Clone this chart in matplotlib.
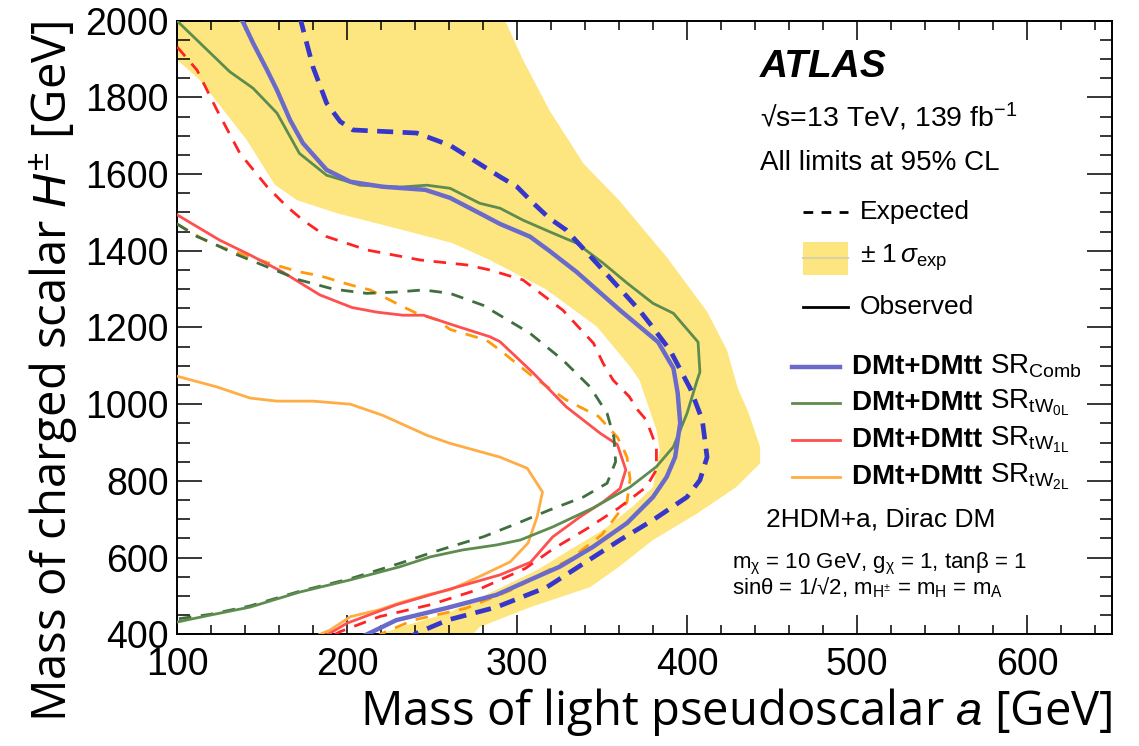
import matplotlib
matplotlib.use("Agg")
import matplotlib.pyplot as plt
from matplotlib.lines import Line2D
from matplotlib.patches import Rectangle

plt.rcParams['font.family'] = ['Liberation Sans', 'DejaVu Sans']
plt.rcParams['mathtext.fontset'] = 'custom'
plt.rcParams['mathtext.rm'] = 'Liberation Sans'
plt.rcParams['mathtext.it'] = 'Liberation Sans:italic'
plt.rcParams['mathtext.bf'] = 'Liberation Sans:bold'
plt.rcParams['mathtext.sf'] = 'Liberation Sans'

# ---------------- data (m_a [GeV], m_H+- [GeV]) ----------------
comb_obs_x = [136, 138.8, 144.7, 153, 158.8, 166.5, 174, 188, 202, 221, 246, 260.6, 278, 290, 307.6,
              319, 335, 360.6, 383, 392, 394.5, 396, 393, 388, 380, 364.7, 344.7, 325, 307.6, 288,
              259, 229, 211.8, 209]
comb_obs_y = [2010, 1997, 1942, 1871, 1819, 1741, 1681, 1611, 1580, 1567, 1559, 1538, 1498, 1470, 1437,
              1400, 1345, 1245, 1162, 1094, 1030, 951, 862, 810, 758, 690, 628, 576, 542, 503,
              469, 437, 400, 394]

comb_exp_x = [172, 173, 180, 188, 196, 203.5, 241, 260.6, 290, 300, 309.6, 319, 329, 347, 372, 378,
              390, 402, 409, 411.8, 407.6, 400, 380, 360.6, 341, 317.6, 288, 259, 241, 238]
comb_exp_y = [2010, 1997, 1879, 1785, 1737, 1715, 1707, 1675, 1593, 1567, 1524, 1485, 1454, 1367, 1245, 1211,
              1141, 1040, 959, 862, 802, 758, 698, 646, 590, 523, 471, 437, 403, 395]

band_outer_x = [292, 303.5, 319, 339, 360, 388, 412, 423.5, 430, 436, 443, 443, 429, 406, 380, 360,
                343, 308, 278, 274, 270]
band_outer_y = [2010, 1898, 1767, 1628, 1532, 1384, 1240, 1141, 1040, 980, 889, 846, 784, 715, 646, 576,
                523, 471, 419, 400, 390]
band_inner_x = [222, 223.5, 239, 259, 288, 312, 331, 350.6, 368, 380, 384, 382, 372, 366.5, 347, 317.6,
                284, 262, 233, 194, 170.6, 157.6, 141, 113.5, 100, 95, 95]
band_inner_y = [390, 407, 429, 455, 516, 568, 620, 672, 733, 784, 880, 933, 1063, 1098, 1202, 1298,
                1376, 1420, 1454, 1498, 1532, 1572, 1689, 1845, 1898, 1915, 2010]

tw0l_obs_x = [99, 100.6, 131, 144.7, 158.8, 172, 188, 207.6, 231, 247, 260.6, 278, 290, 303.5, 319, 335,
              350.6, 364.7, 380, 392, 406.5, 407.6, 406, 400, 392, 382, 366.5, 345, 321, 302, 288, 268,
              249, 231, 202, 172, 143, 119.4, 100]
tw0l_obs_y = [2003, 1997, 1867, 1824, 1759, 1654, 1597, 1571, 1566, 1571, 1563, 1524, 1511, 1480, 1450, 1420,
              1368, 1316, 1263, 1237, 1162, 1084, 1063, 976, 889, 837, 784, 730, 680, 646, 633, 620,
              602, 576, 542, 510, 471, 450, 432]

tw0l_exp_x = [100, 111.8, 121, 133, 153, 172, 192, 211.8, 231, 245, 260.6, 280, 307.6, 327, 343, 353,
              357, 358, 353, 339, 319, 300, 280, 260.6, 249, 231, 202, 172, 143, 119.4, 100]
tw0l_exp_y = [1470, 1437, 1420, 1394, 1358, 1324, 1300, 1289, 1293, 1298, 1289, 1258, 1185, 1115, 1045, 976,
              914, 850, 794, 758, 724, 689, 654, 628, 612, 585, 545, 512, 474, 452, 440]

tw1l_obs_x = [100, 125, 143, 162, 184, 203, 217.6, 233, 245, 262, 284, 290, 309.6, 329, 349, 359, 364,
              360.6, 350.6, 337, 321, 308, 290, 259, 229, 200, 190, 186]
tw1l_obs_y = [1494, 1428, 1389, 1345, 1285, 1252, 1240, 1232, 1232, 1207, 1176, 1163, 1081, 993, 924, 895, 829,
              780, 745, 706, 654, 588, 555, 516, 477, 429, 403, 395]

tw1l_exp_x = [100, 111.8, 123.5, 137, 153, 164.7, 174, 188, 211.8, 243, 270.6, 284, 303.5, 327, 345, 350.6,
              356.5, 366, 371, 376, 382, 382, 376, 360, 341, 321, 305, 290, 278, 249, 219, 196, 193]
tw1l_exp_y = [1932, 1871, 1767, 1654, 1567, 1515, 1480, 1437, 1402, 1376, 1363, 1350, 1324, 1245, 1159, 1107,
              1063, 1020, 985, 959, 889, 829, 784, 730, 675, 622, 572, 542, 518, 477, 446, 407, 400]

tw2l_obs_x = [100, 123.5, 143, 158.8, 180, 202, 221, 247, 260.6, 290, 306, 315, 311.8, 306.5, 296, 280,
              260.6, 249, 231, 219, 202, 190, 184]
tw2l_obs_y = [1073, 1045, 1016, 1008, 1008, 1000, 971, 919, 898, 862, 833, 771, 706, 638, 589, 555,
              516, 505, 482, 464, 446, 411, 400]

tw2l_exp_x = [100, 119.4, 143, 154.7, 172, 184, 202, 213.5, 233, 241, 253, 260.6, 282, 290, 309.6, 329,
              348, 359, 362, 364.7, 366.5, 364.7, 350, 331, 313, 298, 270, 239, 221, 218]
tw2l_exp_y = [1470, 1420, 1384, 1367, 1345, 1335, 1311, 1298, 1254, 1237, 1220, 1195, 1167, 1141, 1071, 1011,
              968, 914, 889, 862, 805, 745, 660, 595, 555, 518, 468, 437, 403, 396]

x_ticks = [100, 200, 300, 400, 500, 600]
y_ticks = [400, 600, 800, 1000, 1200, 1400, 1600, 1800, 2000]

# ---------------- style ----------------
c_band = '#FDE680'
c_comb_obs = '#6A6ACB'
c_comb_exp = '#3636CC'
c_0l_obs = '#5E8C4E'
c_0l_exp = '#3F6E3F'
c_1l_obs = '#FF4F4F'
c_1l_exp = '#FF2424'
c_2l_obs = '#FFAD45'
c_2l_exp = '#FF9A0A'

fig = plt.figure(figsize=(11.39, 7.46), dpi=100)
ax = fig.add_axes([0.1554, 0.1497, 0.8209, 0.8226])

band_x = band_outer_x + band_inner_x
band_y = band_outer_y + band_inner_y
ax.fill(band_x, band_y, color=c_band, lw=0, zorder=1)

dsh = (4.5, 3.5)
ax.plot(tw2l_obs_x, tw2l_obs_y, color=c_2l_obs, lw=2.0, zorder=3)
ax.plot(tw2l_exp_x, tw2l_exp_y, color=c_2l_exp, lw=2.0, dashes=dsh, zorder=3)
ax.plot(tw1l_obs_x, tw1l_obs_y, color=c_1l_obs, lw=2.0, zorder=3)
ax.plot(tw1l_exp_x, tw1l_exp_y, color=c_1l_exp, lw=2.0, dashes=dsh, zorder=3)
ax.plot(tw0l_exp_x, tw0l_exp_y, color=c_0l_exp, lw=2.0, dashes=dsh, zorder=3)
ax.plot(tw0l_obs_x, tw0l_obs_y, color=c_0l_obs, lw=2.0, zorder=3)
ax.plot(comb_exp_x, comb_exp_y, color=c_comb_exp, lw=3.4, dashes=(3.4, 2.0), zorder=4)
ax.plot(comb_obs_x, comb_obs_y, color=c_comb_obs, lw=3.2, zorder=4)

ax.set_xlim(100, 650)
ax.set_ylim(400, 2000)
ax.set_xticks(x_ticks)
ax.set_yticks(y_ticks)
ax.set_xticks(range(100, 651, 20), minor=True)
ax.set_yticks(range(400, 2001, 50), minor=True)
ax.tick_params(which='both', direction='in', top=True, right=True, width=1.1)
ax.tick_params(axis='x', which='major', length=13.5, pad=9, labelsize=27)
ax.tick_params(axis='x', which='minor', length=6.8)
ax.tick_params(axis='y', which='major', length=18, pad=6, labelsize=27)
ax.tick_params(axis='y', which='minor', length=9)
for sp in ax.spines.values():
    sp.set_linewidth(1.4)

ax.set_xlabel(r'Mass of light pseudoscalar $\mathit{a}$ [GeV]', family='Open Sans',
              fontsize=34, loc='right', labelpad=2)
ax.set_ylabel(r'Mass of charged scalar $\mathit{H}^{\pm}$ [GeV]', family='Open Sans',
              fontsize=34, loc='top', labelpad=4)

T = ax.transAxes
ax.text(0.6235, 0.9087, 'ATLAS', transform=T, fontsize=28, fontweight='bold', style='italic')
ax.text(0.6235, 0.8271, '√s=13 TeV, 139 fb$^{\\mathrm{-1}}$', transform=T, fontsize=20.5)
ax.text(0.6235, 0.7570, 'All limits at 95% CL', transform=T, fontsize=20)


def ax_frac(px, py):
    return ((px - 177) / 935.0, (634.3 - py) / 613.6)


# legend: expected / band / observed
x0, _ = ax_frac(803, 0)
x1, _ = ax_frac(848, 0)
xt, _ = ax_frac(860, 0)
for py, kind in [(211.7, 'exp'), (258, 'band'), (307, 'obs')]:
    _, yy = ax_frac(0, py)
    if kind == 'exp':
        ax.add_line(Line2D([x0, x1], [yy, yy], transform=T, color='black', lw=2.0, dashes=(3.5, 3.0)))
        ax.text(xt, yy, 'Expected', transform=T, fontsize=19, va='center')
    elif kind == 'band':
        _, yb = ax_frac(0, 275)
        _, yt = ax_frac(0, 242)
        ax.add_patch(Rectangle((x0, yb), x1 - x0, yt - yb, transform=T, color=c_band, lw=0))
        ax.add_line(Line2D([x0, x1], [yy, yy], transform=T, color='#D8D2A8', lw=1.5))
        ax.text(xt, yy, r'$\pm$ 1$\,\sigma_{\mathrm{exp}}$', transform=T, fontsize=19, va='center')
    else:
        ax.add_line(Line2D([x0, x1], [yy, yy], transform=T, color='black', lw=2.0))
        ax.text(xt, yy, 'Observed', transform=T, fontsize=19, va='center')

# legend: SR curves
lx0, _ = ax_frac(792, 0)
lx1, _ = ax_frac(840, 0)
ltx, _ = ax_frac(852, 0)
entries = [(366.7, c_comb_obs, 3.2, r'SR$_{\mathrm{Comb}}$'),
           (403, c_0l_obs, 2.0, r'SR$_{\mathrm{tW}_{\mathrm{0L}}}$'),
           (440, c_1l_obs, 2.0, r'SR$_{\mathrm{tW}_{\mathrm{1L}}}$'),
           (476.7, c_2l_obs, 2.0, r'SR$_{\mathrm{tW}_{\mathrm{2L}}}$')]
for py, col, lw, sr in entries:
    _, yy = ax_frac(0, py)
    ax.add_line(Line2D([lx0, lx1], [yy, yy], transform=T, color=col, lw=lw))
    t1 = ax.text(ltx, yy, 'DMt+DMtt ', transform=T, fontsize=20, fontweight='bold', va='center')
    ax.annotate(sr, xy=(1, 0.5), xycoords=t1, fontsize=20, va='center', ha='left')

_, yb = ax_frac(0, 526.7)
ax.text(ax_frac(766, 0)[0], yb, '2HDM+a, Dirac DM', transform=T, fontsize=19)
_, yb = ax_frac(0, 568)
ax.text(ax_frac(732, 0)[0], yb, r'm$_{\mathrm{χ}}$ = 10 GeV, g$_{\mathrm{χ}}$ = 1, tanβ = 1', transform=T,
        fontsize=16)
_, yb = ax_frac(0, 594)
ax.text(ax_frac(732, 0)[0], yb, r'sinθ = 1/√2, m$_{\mathrm{H}^{\pm}}$ = m$_{\mathrm{H}}$ = m$_{\mathrm{A}}$',
        transform=T, fontsize=16)

fig.savefig('out.png', dpi=100)
